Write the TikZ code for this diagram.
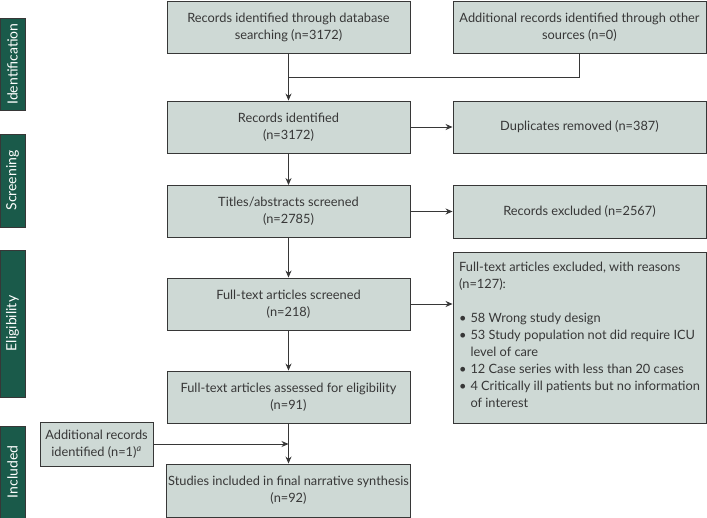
\documentclass[tikz,border=0pt]{standalone}
\usepackage{fontspec}
\setmainfont{Lato}
\usepackage{xcolor}
\usetikzlibrary{arrows.meta}
\definecolor{boxfill}{RGB}{206,217,213}
\definecolor{stagegreen}{RGB}{26,90,74}
\definecolor{inkgrey}{RGB}{55,55,55}

\begin{document}
\begin{tikzpicture}[x=1pt,y=-1pt,
    flowbox/.style={draw=inkgrey,line width=0.9pt,fill=boxfill,
      text=inkgrey,align=center,font=\fontsize{12.8}{17}\selectfont,
      inner sep=2pt},
    mainbox/.style={flowbox,minimum width=243pt,minimum height=52pt},
    sidebox/.style={flowbox,minimum width=253pt,minimum height=52pt},
    stagebox/.style={fill=stagegreen,draw=inkgrey,line width=0.6pt,
      text=white,minimum height=25pt,rotate=90,
      font=\fontsize{14}{16}\selectfont},
    flowline/.style={draw=inkgrey,line width=0.9pt},
    flowarrow/.style={flowline,-{Stealth[length=7pt,width=6pt]}}]
  \useasboundingbox (0,0) rectangle (707,518);
  % stage labels on the left
  \node[stagebox,minimum width=92pt] (ident) at (12.5,64) {Identification};
  \node[stagebox,minimum width=93pt] (screen) at (12.5,180.5) {Screening};
  \node[stagebox,minimum width=147pt] (elig) at (12.5,323.5) {Eligibility};
  \node[stagebox,minimum width=92pt] (incl) at (12.5,472) {Included};
  % main column
  \node[mainbox] (dbrec) at (288.5,27)
    {Records identified through database\\ searching (n=3172)};
  \node[mainbox] (recid) at (288.5,127) {Records identified\\ (n=3172)};
  \node[mainbox] (titles) at (288.5,211.5) {Titles/abstracts screened\\ (n=2785)};
  \node[mainbox] (fulltxt) at (288.5,304) {Full-text articles screened\\ (n=218)};
  \node[mainbox] (elgass) at (288.5,397)
    {Full-text articles assessed for eligibility\\ (n=91)};
  \node[mainbox,minimum height=53pt] (final) at (288.5,490.5)
    {Studies included in final narrative synthesis\\ (n=92)};
  % right column
  \node[sidebox] (other) at (579.5,27)
    {Additional records identified through other\\ sources (n=0)};
  \node[sidebox] (dupl) at (579.5,127) {Duplicates removed (n=387)};
  \node[sidebox,minimum height=53pt] (recexc) at (579.5,211.5)
    {Records excluded (n=2567)};
  \node[sidebox,minimum height=171pt,align=left] (ftexc) at (579.5,337.5)
    {Full-text articles excluded, with reasons\\
     (n=127):\\
     \mbox{}\\
     \begin{tabular}[t]{@{}l@{\hspace{4pt}}l@{}}
       \textbullet & 58 Wrong study design\\
       \textbullet & 53 Study population not did require ICU\\
                   & level of care\\
       \textbullet & 12 Case series with less than 20 cases\\
       \textbullet & 4 Critically ill patients but no information\\
                   & of interest
     \end{tabular}};
  % extra record box
  \node[flowbox,minimum width=113pt,minimum height=44pt] (addrec) at (96.5,444)
    {Additional records\\ identified (n=1)\textsuperscript{\itshape a}};
  % connectors
  \coordinate (join) at (288.5,77);
  \coordinate (addin) at (288.5,444);
  \draw[flowline] (other.south) |- (join);
  \draw[flowarrow] (dbrec) -- (recid);
  \draw[flowarrow] (recid) -- (titles);
  \draw[flowarrow] (titles) -- (fulltxt);
  \draw[flowarrow] (fulltxt) -- (elgass);
  \draw[flowarrow] (elgass) -- (final);
  \draw[flowarrow] (recid) -- (dupl);
  \draw[flowarrow] (titles) -- (recexc);
  \draw[flowarrow] (fulltxt.east) -- (fulltxt.east -| ftexc.west);
  \draw[flowarrow] (addrec) -- (addin);
\end{tikzpicture}
\end{document}
